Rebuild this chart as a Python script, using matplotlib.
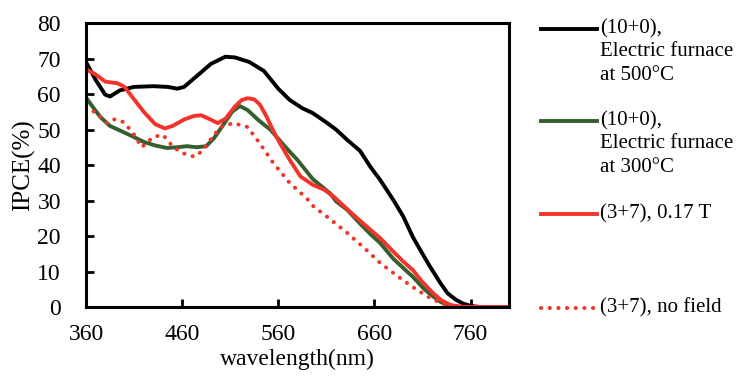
import matplotlib
matplotlib.use('Agg')
import matplotlib.pyplot as plt
from matplotlib.lines import Line2D

plt.rcParams['font.family'] = ['Liberation Serif', 'DejaVu Serif']

# IPCE spectra
wl_black = [360, 370, 380, 385, 395, 410, 430, 445, 455, 462, 475, 490, 505, 515,
            530, 545, 560, 572, 585, 596, 610, 620, 632, 645, 656, 666, 680, 690,
            700, 710, 718, 728, 736, 745, 752, 760, 770, 800]
ipce_black = [69, 64, 59.8, 59.3, 61, 62, 62.2, 62, 61.5, 62, 65, 68.5, 70.5, 70.3,
              69, 66.5, 61.5, 58.3, 56, 54.6, 52, 50, 47, 44, 39.4, 35.8, 30, 25.5,
              19.7, 15, 11.3, 7, 3.9, 2, 1, 0.3, 0, 0]

wl_green = [360, 368, 375, 385, 397, 409, 420, 432, 444, 455, 465, 475, 485, 493,
            502, 512, 520, 528, 540, 552, 566, 580, 596, 614, 620, 632, 645, 656,
            666, 680, 690, 700, 712, 722, 729, 740, 750, 800]
ipce_green = [59, 56, 53.5, 51, 49.5, 48, 46.5, 45.5, 44.8, 45, 45.3, 45, 45.3, 47.5,
              51, 55, 56.6, 55.5, 52.5, 49.9, 45.5, 41.4, 36, 32, 29.8, 27.3, 23.5, 20.5,
              18, 13.5, 11, 8.5, 5, 2.8, 1.4, 0.3, 0, 0]

wl_red = [360, 370, 380, 393, 400, 410, 420, 432, 442, 450, 462, 472, 480, 488,
          497, 505, 515, 522, 528, 535, 541, 548, 555, 562, 572, 583, 596, 608,
          618, 628, 638, 648, 666, 680, 690, 700, 710, 721, 730, 740, 750, 760, 800]
ipce_red = [67, 65.5, 63.5, 63, 62, 58.5, 55, 51.5, 50.3, 51, 52.8, 53.8, 54, 53,
            51.8, 53, 56.5, 58.3, 58.8, 58.5, 57, 53.5, 49.5, 46, 41.4, 36.8, 34.4, 33,
            31, 28.5, 26, 23.6, 19.4, 15.5, 12.8, 10.4, 7, 3.9, 1.8, 0.5, 0.1, 0, 0]

wl_dot = [360, 371, 382, 390, 399, 409, 418, 430, 440, 451, 460, 473, 482, 489,
          500, 513, 520, 528, 541, 555, 572, 590, 596, 615, 632, 650, 666, 685,
          700, 715, 729, 740]
ipce_dot = [56.3, 54.6, 51.8, 52.9, 52.1, 49, 45, 47.9, 48.5, 45, 43.4, 42.3, 44.2, 47,
            50.7, 51.8, 51.3, 50.7, 46, 40.5, 34.9, 30.5, 28.5, 24.5, 20.8, 16.5, 12.4, 8.5,
            5.6, 3, 1.1, 0.2]

labels = [['(10+0),', 'Electric furnace', 'at 500°C'],
          ['(10+0),', 'Electric furnace', 'at 300°C'],
          ['(3+7), 0.17 T'],
          ['(3+7), no field']]

green = '#355e2e'
red = '#f2342a'
W, H = 737, 378

fig = plt.figure(figsize=(7.37, 3.78), dpi=100)
ax = fig.add_axes([86 / W, 1 - 307 / H, (509 - 86) / W, (307 - 23) / H])

ax.plot(wl_black, ipce_black, color='black', lw=2.8, solid_capstyle='round')
ax.plot(wl_green, ipce_green, color=green, lw=2.8, solid_capstyle='round')
ax.plot(wl_dot, ipce_dot, color=red, lw=2.9, linestyle=(0, (0.05, 2.1)),
        dash_capstyle='round')
ax.plot(wl_red, ipce_red, color=red, lw=2.8, solid_capstyle='round')

ax.set_xlim(360, 800)
ax.set_ylim(0, 80)
ax.set_xticks([360, 460, 560, 660, 760])
ax.set_yticks(range(0, 81, 10))
ax.tick_params(direction='in', length=6, width=2, labelsize=17)
ax.tick_params(axis='x', pad=12)
ax.tick_params(axis='y', pad=18)
for s in ax.spines.values():
    s.set_linewidth(2.2)
ax.set_xlabel('wavelength(nm)', fontsize=17, labelpad=3)
ax.set_ylabel('IPCE(%)', fontsize=18, labelpad=2)

# legend drawn to the right of the axes
styles = [dict(color='black', lw=2.8),
          dict(color=green, lw=2.8),
          dict(color=red, lw=2.8),
          dict(color=red, lw=2.9, linestyle=(0, (0.05, 2.1)), dash_capstyle='round')]
first_rows = [29, 121, 214, 308]
for st, lab, y0 in zip(styles, labels, first_rows):
    fig.add_artist(Line2D([541 / W, 597 / W], [1 - y0 / H, 1 - y0 / H],
                          transform=fig.transFigure, **st))
    for j, line in enumerate(lab):
        fig.text(600 / W, 1 - (y0 + 23 * j) / H, line, fontsize=15,
                 va='center', ha='left')

fig.savefig('out.png', dpi=100)
